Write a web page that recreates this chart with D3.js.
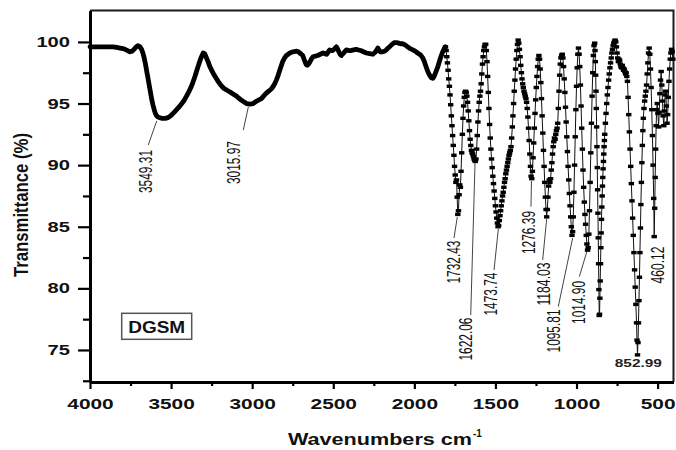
<!DOCTYPE html>
<html>
<head>
<meta charset="utf-8">
<script src="https://cdn.jsdelivr.net/npm/d3@7"></script>
<style>
  html, body { margin: 0; padding: 0; background: #fff; }
  svg { display: block; }
</style>
</head>
<body>
<svg id="chart" width="676" height="450"></svg>
<script>
// FTIR transmittance spectrum of DGSM, [wavenumber (cm-1), transmittance (%)]

// 4000-1800 cm-1: drawn as a heavy continuous trace
const spectrumHigh = [
  [4000,99.6],[3960,99.6],[3920,99.6],[3880,99.6],[3858,99.6],[3835,99.55],[3815,99.5],[3795,99.45],
  [3784,99.4],[3768,99.3],[3754,99.2],[3740,99.25],[3729,99.4],[3715,99.6],[3703,99.7],[3692,99.6],
  [3682,99.4],[3674,99.1],[3666,98.7],[3658,98.2],[3650,97.6],[3643,97.1],[3635,96.5],[3627,95.9],
  [3619,95.3],[3612,94.9],[3604,94.5],[3597,94.2],[3589,94.0],[3581,93.9],[3569,93.85],[3558,93.8],
  [3547,93.8],[3535,93.8],[3520,93.85],[3508,93.95],[3495,94.1],[3480,94.3],[3466,94.5],[3452,94.7],
  [3440,94.9],[3422,95.2],[3405,95.6],[3391,95.95],[3378,96.3],[3366,96.7],[3353,97.2],[3341,97.7],
  [3329,98.2],[3316,98.7],[3302,99.1],[3293,99.05],[3285,98.8],[3272,98.4],[3261,98.0],[3248,97.65],
  [3236,97.35],[3222,97.05],[3210,96.8],[3197,96.55],[3187,96.4],[3172,96.2],[3158,96.1],[3145,96.0],
  [3132,95.9],[3115,95.75],[3097,95.6],[3084,95.45],[3070,95.3],[3052,95.15],[3035,95.0],[3015,94.95],
  [2994,95.0],[2983,95.1],[2972,95.2],[2958,95.3],[2943,95.4],[2930,95.6],[2916,95.8],[2898,96.0],
  [2881,96.2],[2870,96.4],[2861,96.6],[2851,96.9],[2842,97.2],[2836,97.45],[2830,97.7],[2821,98.05],
  [2812,98.4],[2800,98.7],[2789,98.9],[2778,99.0],[2768,99.1],[2748,99.2],[2725,99.25],[2715,99.2],
  [2707,99.1],[2697,99.0],[2688,98.9],[2680,98.6],[2673,98.35],[2666,98.15],[2660,98.1],[2652,98.2],
  [2645,98.35],[2635,98.6],[2625,98.8],[2610,98.85],[2596,98.9],[2580,99.0],[2563,99.1],[2552,99.05],
  [2541,99.0],[2530,99.2],[2522,99.35],[2510,99.3],[2504,99.3],[2492,99.45],[2481,99.6],[2474,99.45],
  [2467,99.25],[2458,99.0],[2450,98.9],[2443,99.0],[2436,99.1],[2426,99.25],[2419,99.35],[2405,99.3],
  [2393,99.3],[2375,99.35],[2358,99.4],[2345,99.35],[2331,99.3],[2314,99.2],[2296,99.1],[2276,99.05],
  [2256,99.0],[2247,99.1],[2239,99.2],[2232,99.35],[2225,99.5],[2218,99.35],[2210,99.2],[2196,99.2],
  [2185,99.25],[2173,99.35],[2163,99.5],[2153,99.6],[2138,99.8],[2122,99.95],[2110,99.95],[2097,99.9],
  [2085,99.85],[2071,99.85],[2056,99.75],[2042,99.6],[2025,99.45],[2009,99.35],[1995,99.25],[1980,99.1],
  [1962,98.95],[1948,98.7],[1938,98.4],[1928,98.0],[1917,97.6],[1906,97.3],[1896,97.1],[1886,97.05],
  [1878,97.2],[1869,97.5],[1862,97.75],[1855,98.0],[1847,98.35],[1839,98.7],[1832,98.95],[1825,99.2],
  [1816,99.45],[1808,99.6]
];

// 1808-400 cm-1: fingerprint region, drawn with point markers
const spectrumLow = [
  [1808,99.6],[1804,99.3],[1800,98.8],[1796,98.3],[1792,97.7],[1788,97.0],[1784,96.4],[1780,95.7],
  [1776,94.9],[1772,94.0],[1768,93.2],[1764,92.4],[1760,91.6],[1756,90.8],[1752,89.9],[1748,89.2],
  [1744,88.6],[1740,88.8],[1736,87.4],[1732,86.0],[1728,86.3],[1724,87.6],[1720,88.4],[1716,88.2],
  [1712,89.5],[1708,91.0],[1704,92.5],[1700,93.8],[1696,94.8],[1692,95.5],[1688,95.9],[1684,96.0],
  [1680,95.9],[1676,95.6],[1672,95.1],[1668,94.4],[1664,93.6],[1660,92.8],[1656,92.1],[1652,91.6],
  [1648,91.2],[1644,91.0],[1640,90.9],[1636,90.7],[1632,90.5],[1628,90.4],[1624,90.3],[1620,90.5],
  [1616,91.3],[1612,92.4],[1608,93.5],[1604,94.4],[1600,95.1],[1596,95.6],[1592,96.0],[1588,96.6],
  [1584,97.4],[1580,98.2],[1576,98.8],[1572,99.3],[1568,99.6],[1564,99.8],[1560,99.8],[1556,99.3],
  [1552,98.4],[1548,97.2],[1544,95.9],[1540,94.6],[1536,93.3],[1532,92.2],[1528,91.3],[1524,90.5],
  [1520,89.8],[1516,89.1],[1512,88.5],[1508,87.9],[1504,87.3],[1500,86.7],[1496,86.2],[1492,85.7],
  [1488,85.3],[1484,85.0],[1480,85.1],[1476,85.5],[1472,85.9],[1468,86.3],[1464,86.7],[1460,87.1],
  [1456,87.5],[1452,87.8],[1448,88.2],[1444,88.6],[1440,88.9],[1436,89.3],[1432,89.6],[1428,89.9],
  [1424,90.2],[1420,90.5],[1416,90.8],[1412,91.0],[1408,91.2],[1404,91.5],[1400,92.2],[1396,93.1],
  [1392,94.0],[1388,95.0],[1384,96.0],[1380,96.9],[1376,97.8],[1372,98.6],[1368,99.3],[1364,99.8],
  [1360,100.15],[1356,99.9],[1352,99.4],[1348,98.8],[1344,98.1],[1340,97.5],[1336,97.0],[1332,96.6],
  [1328,96.3],[1324,96.0],[1320,95.8],[1316,95.6],[1312,95.4],[1308,95.1],[1304,94.6],[1300,93.9],
  [1296,93.0],[1292,92.0],[1288,90.9],[1284,89.9],[1280,89.1],[1276,88.9],[1272,89.5],[1268,90.6],
  [1264,91.8],[1260,93.0],[1256,94.2],[1252,95.3],[1248,96.3],[1244,97.2],[1240,98.0],[1236,98.6],
  [1232,98.9],[1228,98.6],[1224,97.8],[1220,96.7],[1216,95.4],[1212,94.0],[1208,92.6],[1204,91.2],
  [1200,89.9],[1196,88.6],[1192,87.4],[1188,86.4],[1184,85.8],[1180,86.4],[1176,87.4],[1172,88.3],
  [1168,88.8],[1164,88.6],[1160,88.9],[1156,89.6],[1152,90.2],[1148,90.9],[1144,91.5],[1140,91.9],
  [1136,92.2],[1132,92.1],[1128,92.5],[1124,92.8],[1120,93.0],[1116,93.4],[1112,94.6],[1108,96.0],
  [1104,97.3],[1100,98.2],[1096,98.7],[1092,98.9],[1088,99.0],[1084,98.7],[1080,98.0],[1076,97.0],
  [1072,95.9],[1068,94.7],[1064,93.5],[1060,92.3],[1056,91.1],[1052,89.9],[1048,88.8],[1044,87.7],
  [1040,86.7],[1036,85.8],[1032,85.0],[1028,84.3],[1024,84.6],[1020,85.8],[1016,87.8],[1012,90.0],
  [1008,92.3],[1004,94.5],[1000,96.4],[996,97.9],[992,99.0],[988,99.5],[984,99.0],[980,98.0],
  [976,96.5],[972,94.8],[968,93.0],[964,91.3],[960,89.6],[956,88.2],[952,87.0],[948,86.0],
  [944,85.2],[940,84.3],[936,83.6],[932,83.1],[928,83.3],[924,84.4],[920,86.3],[916,88.6],
  [912,91.0],[908,93.4],[904,95.6],[900,97.5],[896,98.9],[892,99.7],[888,99.9],[886,99.3],
  [884,98.4],[882,97.3],[880,96.0],[878,94.6],[876,93.1],[874,91.5],[872,89.8],[870,88.0],
  [868,86.1],[866,84.1],[864,82.0],[862,79.9],[860,77.8],[858,77.9],[856,79.2],[854,80.6],
  [852,82.0],[850,83.3],[848,84.5],[846,85.6],[844,86.6],[842,87.5],[840,88.3],[838,89.0],
  [836,89.7],[834,90.3],[832,90.9],[830,91.5],[828,92.0],[826,92.5],[822,93.4],[818,94.2],
  [814,95.0],[810,95.7],[806,96.3],[802,96.9],[798,97.4],[794,97.9],[790,98.3],[786,98.7],
  [782,99.1],[778,99.4],[774,99.7],[770,99.9],[766,100.05],[762,100.15],[758,100.0],[754,99.6],
  [750,99.1],[746,98.7],[742,98.4],[738,98.6],[734,98.5],[730,98.2],[726,98.0],[722,97.9],
  [718,98.1],[714,97.9],[710,97.7],[706,97.8],[702,97.6],[698,97.4],[694,97.5],[690,97.2],
  [686,96.8],[682,95.5],[678,94.1],[674,92.7],[670,91.3],[666,89.9],[662,88.5],[658,87.1],
  [654,85.7],[650,84.3],[646,82.9],[642,81.5],[638,80.1],[634,78.7],[630,77.2],[627,75.8],
  [624,74.6],[621,75.6],[618,77.2],[615,79.0],[612,80.9],[609,82.9],[606,84.9],[603,86.8],
  [600,88.6],[597,90.2],[594,91.6],[591,92.8],[588,93.8],[584,94.6],[580,95.2],[576,95.6],
  [572,96.0],[568,96.5],[564,97.4],[560,98.3],[556,99.1],[552,99.5],[548,99.0],[544,97.8],
  [540,96.3],[536,94.5],[532,92.4],[528,90.0],[524,87.3],[521,84.2],[518,86.5],[515,89.0],
  [512,91.3],[509,93.2],[506,94.5],[502,95.0],[498,94.2],[494,93.1],[490,94.3],[486,95.8],
  [482,96.9],[478,97.6],[474,96.5],[470,95.2],[466,94.0],[462,93.2],[458,94.4],[454,95.7],
  [450,96.0],[446,94.8],[442,93.4],[438,94.1],[434,95.5],[430,96.8],[426,97.8],[422,98.6],
  [418,99.1],[414,99.4],[410,99.2],[406,98.6]
];

const xTicks = [4000, 3500, 3000, 2500, 2000, 1500, 1000, 500];
const xMinorTicks = [3750, 3250, 2750, 2250, 1750, 1250, 750];
const yTicks = [75, 80, 85, 90, 95, 100];
const yMinorTicks = [72.5, 77.5, 82.5, 87.5, 92.5, 97.5];

// band annotations and the point of the trace each one marks
const peakLabels = ["3549.31", "3015.97", "1732.43", "1622.06", "1473.74", "1276.39",
                    "1184.03", "1095.81", "1014.90", "852.99", "460.12"];
const peakPoints = [[3550, 93.8], [3012, 94.95], [1732, 86.0], [1624, 90.3], [1484, 85.0], [1276, 88.9],
                    [1184, 85.8], [1028, 84.3], [932, 83.1], [624, 74.6], [521, 84.2]];

const sampleName = "DGSM";
const xTitle = "Wavenumbers cm";
const xTitleSup = "-1";
const yTitle = "Transmittance (%)";

// ---- layout -------------------------------------------------------------
const FONT = '"Liberation Sans", Arial, Helvetica, sans-serif';
const svg = d3.select("#chart");
svg.append("rect").attr("width", 676).attr("height", 450).attr("fill", "#fff");

const x = d3.scaleLinear().domain([4000, 402]).range([90, 673.5]);
const y = d3.scaleLinear().domain([72.4, 102.55]).range([382, 10.5]);
const [xL, xR] = x.range();
const [yB, yT] = y.range();

// label leader offsets (px) from each annotated point: leader start, leader end, text centre
const labelLayout = [
  { s: [-6.3, 2.7], e: [-14.7, 26.7], t: [-17.5, 53.2], rot: true },
  { s: [-1.9, 2.9], e: [-6.9, 25.9], t: [-16.9, 58.4], rot: true },
  { s: [-0.5, 2.6], e: [-3.8, 23.6], t: [-4.5, 47.6], rot: true },
  { s: [-0.3, 1.6], e: [-4.6, 153.6], t: [-9.3, 177.6], rot: true },
  { s: [0.3, 2.3], e: [-4.0, 43.3], t: [-7.0, 67.3], rot: true },
  { s: [-0.3, 2.3], e: [-0.8, 28.0], t: [-3.5, 53.8], rot: true },
  { s: [0.0, 2.1], e: [-4.0, 43.1], t: [-3.4, 67.1], rot: true },
  { s: [0.7, 2.6], e: [-13.7, 71.3], t: [-18.7, 95.6], rot: true },
  { s: [-0.8, 1.8], e: [-8.2, 26.5], t: [-9.2, 52.3], rot: true },
  { s: null, e: null, t: [0.8, 8.1], rot: false },
  { s: null, e: null, t: [3.3, 28.4], rot: true }
];

// top and right frame
svg.append("path")
  .attr("d", `M${xL},${yT}H${xR}V${yB}`)
  .attr("fill", "none").attr("stroke", "#1a1a1a").attr("stroke-width", 2);

// spectrum
const line = d3.line().x(d => x(d[0])).y(d => y(d[1]));
svg.append("path").datum(spectrumHigh)
  .attr("d", line).attr("fill", "none").attr("stroke", "#000")
  .attr("stroke-width", 4.8).attr("stroke-linejoin", "round").attr("stroke-linecap", "round");
svg.append("path").datum(spectrumLow)
  .attr("d", line).attr("fill", "none").attr("stroke", "#111").attr("stroke-width", 1);
svg.append("g").selectAll("rect").data(spectrumLow).join("rect")
  .attr("x", d => x(d[0]) - 2.7).attr("y", d => y(d[1]) - 1.7)
  .attr("width", 5.4).attr("height", 3.4).attr("fill", "#000");

// axes
const fmt = d3.format("d");
const gx = svg.append("g").attr("transform", `translate(0,${yB})`)
  .call(d3.axisBottom(x).tickValues(xTicks).tickSize(7).tickSizeOuter(0).tickPadding(9).tickFormat(fmt));
const gxm = svg.append("g").attr("transform", `translate(0,${yB})`)
  .call(d3.axisBottom(x).tickValues(xMinorTicks).tickSize(4).tickFormat(""));
gxm.select(".domain").remove();

const gy = svg.append("g").attr("transform", `translate(${xL},0)`)
  .call(d3.axisLeft(y).tickValues(yTicks).tickSize(12).tickSizeOuter(0).tickPadding(8).tickFormat(fmt));
const gym = svg.append("g").attr("transform", `translate(${xL},0)`)
  .call(d3.axisLeft(y).tickValues(yMinorTicks).tickSize(7).tickFormat(""));
gym.select(".domain").remove();

[gx, gy, gxm, gym].forEach(g => {
  g.selectAll(".tick line").attr("stroke", "#000").attr("stroke-width", 2.2);
});
[gx, gy].forEach(g => {
  g.select(".domain").attr("stroke", "#000").attr("stroke-width", 3);
  g.attr("font-family", FONT);
});
gx.selectAll(".tick text")
  .attr("font-size", 15).attr("font-weight", "bold").attr("fill", "#111")
  .attr("textLength", d => fmt(d).length * 11.6).attr("lengthAdjust", "spacingAndGlyphs");
gy.selectAll(".tick text")
  .attr("font-size", 14).attr("font-weight", "bold").attr("fill", "#111")
  .attr("textLength", d => fmt(d).length * 11.2).attr("lengthAdjust", "spacingAndGlyphs");

// axis titles
svg.append("text")
  .attr("x", 288).attr("y", 445)
  .attr("font-family", FONT).attr("font-size", 16).attr("font-weight", "bold").attr("fill", "#111")
  .attr("textLength", 184).attr("lengthAdjust", "spacingAndGlyphs")
  .text(xTitle);
svg.append("text")
  .attr("x", 473).attr("y", 437)
  .attr("font-family", FONT).attr("font-size", 10).attr("font-weight", "bold").attr("fill", "#111")
  .text(xTitleSup);

svg.append("text")
  .attr("transform", "translate(28,205) rotate(-90) scale(1,1.3)")
  .attr("text-anchor", "middle")
  .attr("font-family", FONT).attr("font-size", 16).attr("font-weight", "bold").attr("fill", "#111")
  .attr("textLength", 144).attr("lengthAdjust", "spacingAndGlyphs")
  .text(yTitle);

// sample legend box
const legend = svg.append("g");
legend.append("rect")
  .attr("x", 121.7).attr("y", 313.3).attr("width", 70).attr("height", 26)
  .attr("fill", "#fff").attr("stroke", "#555").attr("stroke-width", 1.5);
legend.append("text")
  .attr("x", 156.7).attr("y", 332.7).attr("text-anchor", "middle")
  .attr("font-family", FONT).attr("font-size", 17).attr("font-weight", "bold").attr("fill", "#111")
  .attr("textLength", 57).attr("lengthAdjust", "spacingAndGlyphs")
  .text(sampleName);

// band annotations
const ann = svg.append("g").attr("font-family", FONT);
peakLabels.forEach((label, i) => {
  const px = x(peakPoints[i][0]), py = y(peakPoints[i][1]);
  const L = labelLayout[i];
  if (L.s) {
    ann.append("line")
      .attr("x1", px + L.s[0]).attr("y1", py + L.s[1])
      .attr("x2", px + L.e[0]).attr("y2", py + L.e[1])
      .attr("stroke", "#444").attr("stroke-width", 1);
  }
  const tx = px + L.t[0], ty = py + L.t[1];
  if (L.rot) {
    ann.append("text")
      .attr("transform", `translate(${tx},${ty}) rotate(-90) scale(1,1.5)`)
      .attr("text-anchor", "middle").attr("y", "0.36em")
      .attr("font-size", 11.7).attr("fill", "#111")
      .attr("textLength", label.length * 6.15).attr("lengthAdjust", "spacingAndGlyphs")
      .text(label);
  } else {
    ann.append("text")
      .attr("x", tx).attr("y", ty + 4.2).attr("text-anchor", "middle")
      .attr("font-size", 11.6).attr("font-weight", "bold").attr("fill", "#222")
      .attr("textLength", 47).attr("lengthAdjust", "spacingAndGlyphs")
      .text(label);
  }
});
</script>
</body>
</html>
